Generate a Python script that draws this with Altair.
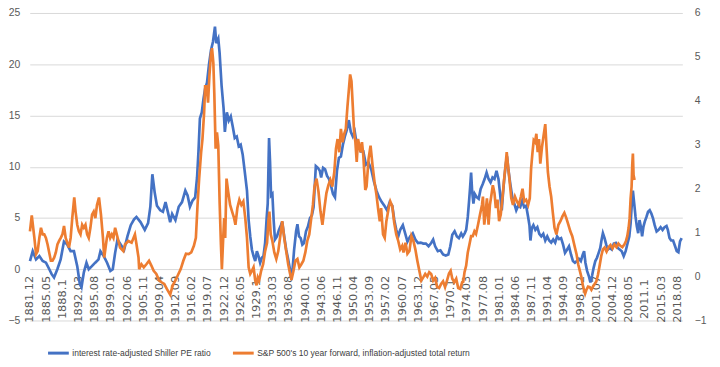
import json
import altair as alt
import pandas as pd

# ---------------- data ----------------
TICK_LABELS = ["1881.12", "1885.05", "1888.1", "1892.03", "1895.08", "1899.01", "1902.06",
               "1905.11", "1909.04", "1912.09", "1916.02", "1919.07", "1922.12", "1926.05",
               "1929.1", "1933.03", "1936.08", "1940.01", "1943.06", "1946.11", "1950.04",
               "1953.09", "1957.02", "1960.07", "1963.12", "1967.05", "1970.1", "1974.03",
               "1977.08", "1981.01", "1984.06", "1987.11", "1991.04", "1994.09", "1998.02",
               "2001.07", "2004.12", "2008.05", "2011.1", "2015.03", "2018.08"]

SERIES = ["interest rate-adjusted Shiller PE ratio",
          "S&P 500's 10 year forward, inflation-adjusted total return"]
COLORS = ["#4472C4", "#ED7D31"]

pe_year = [
    1881.92, 1882.5, 1883.2, 1883.9, 1884.6, 1885.3, 1886.0, 1886.5, 1887.0, 1887.7,
    1888.4, 1889.1, 1889.8, 1890.5, 1891.2, 1891.9, 1892.45, 1892.8, 1893.3, 1893.85,
    1894.33, 1895.0, 1895.7, 1896.4, 1896.8, 1897.5, 1898.2, 1898.9, 1899.4, 1899.9,
    1900.4, 1901.1, 1901.8, 1902.5, 1903.2, 1903.9, 1904.4, 1905.26, 1906.16, 1906.86,
    1907.34, 1907.76, 1908.25, 1908.73, 1909.43, 1909.99, 1910.54, 1911.03, 1911.52, 1911.94,
    1912.63, 1913.33, 1914.02, 1914.72, 1915.2, 1915.7, 1916.25, 1916.8, 1917.2, 1917.5,
    1917.8, 1918.2, 1918.55, 1918.9, 1919.3, 1919.73, 1920.15, 1920.56, 1920.98, 1921.26,
    1921.68, 1921.96, 1922.38, 1922.8, 1923.07, 1923.49, 1923.9, 1924.32, 1924.74, 1925.16,
    1925.58, 1926.0, 1926.41, 1926.83, 1927.25, 1927.74, 1928.09, 1928.43, 1928.78, 1929.13,
    1929.48, 1929.83, 1930.17, 1930.52, 1930.87, 1931.22, 1931.57, 1931.91, 1932.12, 1932.4,
    1932.61, 1932.82, 1933.1, 1933.37, 1933.65, 1934.07, 1934.49, 1934.9, 1935.18, 1935.6,
    1936.02, 1936.44, 1937.0, 1937.34, 1937.69, 1938.11, 1938.39, 1938.73, 1939.08, 1939.43,
    1939.78, 1940.2, 1940.61, 1941.03, 1941.45, 1941.8, 1942.07, 1942.28, 1942.7, 1943.12,
    1943.4, 1943.81, 1944.23, 1944.65, 1945.07, 1945.48, 1945.9, 1946.32, 1946.74, 1947.15,
    1947.57, 1947.99, 1948.41, 1948.82, 1949.24, 1949.66, 1950.08, 1950.5, 1950.7, 1951.19,
    1951.74, 1952.3, 1952.86, 1953.41, 1953.97, 1954.53, 1955.08, 1955.64, 1956.2, 1956.75,
    1957.31, 1957.87, 1958.42, 1958.84, 1959.26, 1959.68, 1960.09, 1960.65, 1961.14, 1961.62,
    1962.18, 1962.74, 1963.29, 1963.85, 1964.41, 1964.96, 1965.52, 1966.08, 1966.63, 1967.05,
    1967.47, 1968.03, 1968.58, 1969.14, 1969.7, 1970.25, 1970.67, 1971.09, 1971.58, 1972.06,
    1972.48, 1972.97, 1973.31, 1973.7, 1974.02, 1974.36, 1974.64, 1974.85, 1975.06, 1975.27,
    1975.55, 1975.83, 1976.24, 1976.66, 1977.08, 1977.5, 1977.91, 1978.33, 1978.75, 1979.17,
    1979.58, 1980.0, 1980.42, 1980.84, 1981.18, 1981.53, 1981.81, 1982.09, 1982.37, 1982.65,
    1982.92, 1983.34, 1983.76, 1984.18, 1984.59, 1985.01, 1985.43, 1985.85, 1986.26, 1986.68,
    1987.1, 1987.38, 1987.59, 1987.87, 1988.21, 1988.63, 1989.05, 1989.46, 1989.88, 1990.3,
    1990.72, 1991.14, 1991.55, 1991.97, 1992.39, 1992.81, 1993.22, 1993.64, 1994.06, 1994.48,
    1994.89, 1995.31, 1995.73, 1996.15, 1996.56, 1996.98, 1997.39, 1997.81, 1998.23, 1998.65,
    1998.92, 1999.2, 1999.55, 1999.9, 2000.25, 2000.6, 2000.94, 2001.29, 2001.64, 2001.99,
    2002.33, 2002.61, 2002.89, 2003.24, 2003.59, 2003.93, 2004.35, 2004.77, 2005.19, 2005.61,
    2006.02, 2006.44, 2006.86, 2007.28, 2007.69, 2008.11, 2008.46, 2008.74, 2008.95, 2009.22,
    2009.5, 2009.78, 2010.06, 2010.34, 2010.62, 2010.9, 2011.17, 2011.45, 2011.73, 2012.08,
    2012.42, 2012.77, 2013.12, 2013.47, 2013.82, 2014.23, 2014.65, 2015.07, 2015.49, 2015.9,
    2016.32, 2016.6, 2016.95, 2017.3, 2017.71, 2018.13, 2018.48, 2018.83, 2019.17, 2019.52,
]
pe_value = [
    0.8, 1.76, 0.96, 1.28, 0.8, 0.64, 0.0, -0.48, -0.8, 0.0,
    0.96, 2.7, 2.4, 1.76, 1.76, 0.3, -1.44, -1.76, -0.3, 0.64,
    0.0, 0.3, 0.64, 0.96, 1.76, 1.28, 0.64, -0.16, 0.0, 1.6,
    2.9, 2.4, 1.9, 3.2, 4.3, 4.86, 5.1, 4.6, 3.84, 4.5,
    6.1, 9.27, 7.5, 6.2, 5.75, 5.6, 6.55, 5.6, 4.6, 5.4,
    4.8, 6.1, 6.55, 7.67, 7.2, 6.1, 6.7, 7.0, 8.95, 11.5,
    14.7, 15.3, 16.6, 17.6, 18.2, 20.0, 21.4, 22.2, 23.66, 22.06,
    22.5, 21.1, 17.9, 15.7, 13.4, 15.3, 14.5, 14.9, 13.9, 12.8,
    12.95, 12.0, 12.15, 11.2, 9.6, 7.67, 4.8, 3.2, 1.9, 1.28,
    0.8, 1.76, 1.28, 0.64, 1.12, 1.28, 2.56, 5.1, 6.4, 12.8,
    10.5, 7.2, 7.35, 4.8, 2.9, 3.2, 3.84, 4.3, 4.64, 3.2,
    1.9, 0.96, -0.48, -0.16, 1.9, 3.7, 4.4, 3.2, 3.04, 2.4,
    2.56, 3.7, 4.16, 4.96, 5.27, 6.07, 8.3, 10.07, 9.9, 9.6,
    8.95, 9.9, 9.75, 9.1, 8.8, 8.15, 7.35, 7.03, 9.6, 10.87,
    11.0, 12.15, 12.95, 13.6, 14.55, 13.4, 12.95, 13.4, 12.8, 12.15,
    11.5, 11.5, 10.2, 10.4, 9.75, 8.6, 7.67, 7.0, 6.55, 6.2,
    5.75, 6.55, 6.2, 4.8, 3.84, 3.2, 3.84, 4.3, 3.5, 2.7,
    3.2, 3.5, 2.9, 2.56, 2.6, 2.5, 2.5, 2.24, 2.56, 2.9,
    2.24, 1.76, 1.85, 1.44, 1.34, 1.44, 2.24, 3.36, 3.7, 3.2,
    3.04, 3.5, 3.2, 3.5, 3.84, 5.1, 6.7, 8.0, 9.43, 7.67,
    6.4, 7.35, 7.03, 6.87, 7.83, 8.3, 8.8, 9.43, 8.8, 8.47,
    8.95, 8.8, 9.6, 8.8, 7.35, 5.75, 7.5, 8.95, 10.2, 11.0,
    9.75, 8.3, 7.03, 6.4, 5.75, 6.2, 6.07, 6.7, 6.07, 6.2,
    5.1, 4.3, 2.8, 4.0, 4.3, 3.84, 4.1, 3.45, 3.2, 3.45,
    2.8, 3.2, 2.8, 2.6, 2.9, 2.6, 3.2, 2.94, 3.04, 2.4,
    1.6, 1.9, 2.24, 1.44, 0.8, 0.64, 0.8, 1.02, 0.8, 1.44,
    1.76, 0.64, -0.16, -0.64, -1.28, -0.64, 0.16, 0.8, 1.12, 1.6,
    2.08, 2.88, 3.52, 3.04, 2.4, 1.92, 2.08, 1.92, 2.5, 2.56,
    2.08, 1.92, 1.76, 1.28, 1.76, 2.56, 3.2, 4.48, 6.07, 7.67,
    6.4, 5.1, 4.16, 3.52, 4.8, 4.16, 3.2, 4.16, 4.64, 5.1,
    5.6, 5.75, 5.43, 4.96, 4.3, 3.68, 3.84, 4.1, 3.84, 4.1,
    4.22, 3.84, 3.04, 2.8, 2.8, 2.24, 1.76, 1.66, 2.72, 3.04,
]

ret_year = [
    1881.92, 1882.3, 1882.85, 1883.2, 1883.55, 1883.9, 1884.24, 1884.6, 1884.94, 1885.29,
    1885.64, 1885.98, 1886.33, 1886.68, 1887.03, 1887.38, 1887.72, 1888.07, 1888.42, 1888.77,
    1889.11, 1889.46, 1889.81, 1890.16, 1890.51, 1890.85, 1891.27, 1891.55, 1891.9, 1892.25,
    1892.59, 1892.94, 1893.29, 1893.64, 1893.99, 1894.33, 1894.68, 1895.03, 1895.38, 1895.73,
    1896.07, 1896.49, 1896.91, 1897.33, 1897.6, 1897.88, 1898.16, 1898.51, 1898.86, 1899.2,
    1899.55, 1899.9, 1900.25, 1900.6, 1900.94, 1901.64, 1901.99, 1902.69, 1903.38, 1904.08,
    1904.42, 1904.84, 1904.98, 1905.46, 1905.95, 1906.5, 1907.06, 1907.55, 1908.04, 1908.6,
    1909.15, 1909.7, 1910.27, 1910.82, 1911.52, 1912.07, 1912.63, 1913.19, 1913.75, 1914.3,
    1914.86, 1915.42, 1915.97, 1916.53, 1916.95, 1917.3, 1917.64, 1918.06, 1918.34, 1918.69,
    1918.9, 1919.24, 1919.52, 1919.8, 1920.15, 1920.36, 1920.64, 1920.84, 1921.12, 1921.4,
    1921.68, 1921.96, 1922.24, 1922.44, 1922.72, 1922.93, 1923.14, 1923.42, 1923.77, 1924.18,
    1924.6, 1925.02, 1925.3, 1925.71, 1926.13, 1926.55, 1926.97, 1927.38, 1927.74, 1928.09,
    1928.43, 1928.78, 1929.13, 1929.48, 1929.76, 1930.03, 1930.31, 1930.73, 1931.15, 1931.57,
    1931.98, 1932.26, 1932.47, 1932.75, 1933.1, 1933.51, 1933.93, 1934.35, 1934.77, 1935.18,
    1935.6, 1936.02, 1936.44, 1936.85, 1937.13, 1937.55, 1937.97, 1938.39, 1938.8, 1939.22,
    1939.64, 1940.06, 1940.47, 1940.89, 1941.31, 1941.66, 1942.0, 1942.42, 1942.84, 1943.26,
    1943.67, 1944.09, 1944.51, 1944.93, 1945.34, 1945.76, 1946.18, 1946.53, 1946.87, 1947.22,
    1947.57, 1947.92, 1948.27, 1948.61, 1948.96, 1949.31, 1949.52, 1949.8, 1950.08, 1950.36,
    1950.63, 1950.91, 1951.19, 1951.46, 1951.74, 1952.02, 1952.3, 1952.72, 1952.99, 1953.41,
    1953.83, 1954.25, 1954.66, 1955.08, 1955.5, 1955.78, 1956.06, 1956.47, 1956.82, 1957.17,
    1957.66, 1958.0, 1958.42, 1958.84, 1959.26, 1959.68, 1960.09, 1960.51, 1960.79, 1961.21,
    1961.62, 1962.04, 1962.46, 1962.88, 1963.29, 1963.71, 1964.13, 1964.55, 1964.96, 1965.38,
    1965.8, 1966.22, 1966.63, 1967.05, 1967.47, 1967.89, 1968.3, 1968.72, 1969.14, 1969.56,
    1969.97, 1970.39, 1970.74, 1971.09, 1971.51, 1971.92, 1972.34, 1972.76, 1973.17, 1973.4,
    1973.67, 1974.02, 1974.36, 1974.71, 1975.06, 1975.41, 1975.76, 1976.1, 1976.52, 1976.94,
    1977.36, 1977.56, 1977.84, 1978.12, 1978.4, 1978.75, 1979.03, 1979.3, 1979.65, 1980.0,
    1980.28, 1980.63, 1980.97, 1981.32, 1981.67, 1982.02, 1982.37, 1982.58, 1982.85, 1983.2,
    1983.55, 1983.9, 1984.32, 1984.73, 1985.15, 1985.57, 1985.92, 1986.26, 1986.68, 1987.1,
    1987.45, 1987.73, 1988.0, 1988.28, 1988.56, 1988.84, 1989.12, 1989.4, 1989.67, 1990.02,
    1990.37, 1990.72, 1991.0, 1991.27, 1991.62, 1991.97, 1992.32, 1992.67, 1993.08, 1993.5,
    1993.92, 1994.34, 1994.75, 1995.17, 1995.59, 1996.01, 1996.42, 1996.98, 1997.32, 1997.67,
    1998.02, 1998.37, 1998.65, 1998.92, 1999.13, 1999.41, 1999.76, 2000.11, 2000.46, 2000.8,
    2001.15, 2001.5, 2001.85, 2002.2, 2002.54, 2002.89, 2003.24, 2003.66, 2004.07, 2004.49,
    2004.91, 2005.33, 2005.74, 2006.16, 2006.58, 2007.0, 2007.41, 2007.76, 2008.04, 2008.32,
    2008.53, 2008.74, 2008.95, 2009.08, 2009.22, 2009.36, 2009.57,
]
ret_value = [
    1.03, 1.39, 0.88, 0.51, 0.58, 0.88, 1.11, 0.96, 0.96, 0.88,
    0.73, 0.55, 0.36, 0.36, 0.43, 0.55, 0.73, 0.81, 0.88, 0.96,
    1.15, 0.88, 0.77, 0.66, 0.88, 1.33, 1.8, 1.48, 1.18, 1.03,
    0.96, 1.18, 1.11, 1.18, 0.96, 0.88, 1.11, 1.41, 1.48, 1.33,
    1.63, 1.8, 1.41, 0.88, 0.43, 0.66, 0.88, 1.03, 0.88, 0.96,
    0.88, 1.11, 0.96, 0.81, 0.66, 0.58, 0.73, 0.81, 0.77, 0.96,
    0.73, 0.43, 0.17, 0.28, 0.21, 0.28, 0.36, 0.25, 0.13, 0.06,
    -0.08, -0.13, -0.17, -0.28, -0.41, -0.2, -0.09, 0.04, 0.17, 0.36,
    0.52, 0.51, 0.55, 0.7, 0.88, 1.63, 2.23, 2.83, 3.13, 3.73,
    4.33, 4.33, 3.96, 4.56, 5.08, 5.2, 4.86, 4.18, 2.91, 3.28,
    2.98, 1.71, 0.73, 0.17, 0.88, 1.33, 0.88, 2.23, 1.93, 1.63,
    1.48, 1.33, 1.18, 1.56, 1.75, 1.63, 1.71, 1.33, 0.88, 0.21,
    0.06, 0.13, 0.21, -0.09, -0.2, -0.02, -0.09, 0.13, 0.28, 0.58,
    0.77, 1.26, 1.48, 0.96, 0.81, 0.55, 0.4, 0.58, 0.92, 1.26,
    0.88, 0.58, 0.28, 0.06, -0.08, 0.13, 0.36, 0.4, 0.21, 0.28,
    0.36, 0.55, 0.81, 0.96, 1.33, 1.63, 2.05, 2.23, 1.93, 1.48,
    1.18, 1.56, 1.9, 2.08, 2.2, 2.05, 2.38, 2.91, 3.13, 2.83,
    3.36, 3.06, 3.25, 3.36, 3.88, 4.33, 4.6, 4.45, 3.88, 3.28,
    3.06, 2.61, 3.13, 2.98, 2.83, 3.06, 2.76, 1.97, 2.05, 2.68,
    2.98, 2.53, 2.16, 1.86, 1.48, 1.26, 1.56, 0.96, 0.88, 1.26,
    1.56, 1.71, 1.6, 1.22, 0.96, 0.81, 0.62, 0.7, 0.55, 0.77,
    0.52, 0.58, 0.92, 0.81, 0.62, 0.36, 0.13, -0.09, -0.02, 0.06,
    0.0, 0.1, 0.06, -0.09, -0.03, -0.24, -0.26, -0.17, -0.11, -0.24,
    -0.09, 0.07, 0.13, -0.05, -0.13, -0.05, -0.26, -0.28, -0.13, -0.12,
    0.1, 0.25, 0.55, 0.73, 0.92, 0.92, 1.03, 0.97, 1.18, 1.41,
    1.63, 1.82, 1.18, 1.45, 1.78, 1.18, 1.63, 1.82, 2.08, 1.9,
    1.56, 1.75, 1.26, 1.41, 1.78, 2.2, 2.57, 2.83, 2.53, 2.16,
    1.78, 1.63, 1.82, 1.71, 1.63, 1.82, 2.0, 1.71, 1.75, 1.63,
    1.78, 2.46, 2.8, 3.1, 3.06, 3.25, 2.83, 3.13, 2.57, 2.94,
    3.21, 3.47, 2.91, 2.38, 2.05, 1.82, 1.45, 1.11, 0.96, 1.18,
    1.26, 1.37, 1.45, 1.33, 1.18, 1.03, 0.92, 0.66, 0.51, 0.28,
    0.13, -0.02, -0.2, -0.32, -0.39, -0.3, -0.23, -0.24, -0.3, -0.23,
    -0.17, -0.11, 0.04, 0.25, 0.47, 0.62, 0.66, 0.57, 0.67, 0.72,
    0.64, 0.73, 0.67, 0.75, 0.7, 0.67, 0.73, 0.81, 0.92, 1.11,
    1.33, 1.78, 2.05, 2.53, 2.8, 2.31, 2.2,
]

# ---------------- chart ----------------
START = 1881 + 11 / 12          # first category (1881.12)
STEP = 41 / 12                  # 41 months between labels
tick_values = [round(START + k * STEP, 4) for k in range(len(TICK_LABELS))]
label_expr = json.dumps(TICK_LABELS) + f"[round((datum.value - {START:.4f}) / {STEP:.6f})]"

pe_df = pd.DataFrame({"year": pe_year, "value": pe_value, "series": SERIES[0]})
ret_df = pd.DataFrame({"year": ret_year, "value": ret_value, "series": SERIES[1]})

x_scale = alt.Scale(domain=[1881.875, 2019.66], nice=False, zero=False)
x_axis = alt.Axis(values=tick_values, labelExpr=label_expr, labelAngle=270,
                  labelAlign="center", labelBaseline="middle", labelPadding=29,
                  offset=-51, grid=False, labelOverlap=False, labelFlush=False,
                  labelFont="DejaVu Sans", labelFontSize=11.5, labelColor="#595959",
                  domain=False, ticks=False, title=None)

color = alt.Color(
    "series:N",
    scale=alt.Scale(domain=SERIES, range=COLORS),
    legend=alt.Legend(
        orient="none", legendX=17, legendY=332, direction="horizontal", title=None,
        symbolType="stroke", symbolSize=441, symbolStrokeWidth=3,
        labelFont="Liberation Sans", labelFontSize=8.6, labelColor="#404040",
        columnPadding=16, labelOffset=2, padding=0, labelLimit=400,
    ),
)

pe_line = alt.Chart(pe_df).mark_line(strokeWidth=2.7).encode(
    x=alt.X("year:Q", scale=x_scale, axis=x_axis),
    y=alt.Y("value:Q", scale=alt.Scale(domain=[-5, 25], nice=False, zero=False),
            axis=alt.Axis(values=[-5, 0, 5, 10, 15, 20, 25], grid=True, gridColor="#d9d9d9",
                          gridWidth=1, labelPadding=10, labelFont="Liberation Sans",
                          labelFontSize=10.5, labelColor="#595959", orient="left",
                          domain=False, ticks=False, title=None)),
    color=color,
)

ret_line = alt.Chart(ret_df).mark_line(strokeWidth=2.7).encode(
    x=alt.X("year:Q", scale=x_scale, axis=x_axis),
    y=alt.Y("value:Q", scale=alt.Scale(domain=[-1, 6], nice=False, zero=False),
            axis=alt.Axis(values=[-1, 0, 1, 2, 3, 4, 5, 6], grid=False, labelPadding=12,
                          labelFont="Liberation Sans", labelFontSize=10.5,
                          labelColor="#595959", orient="right",
                          domain=False, ticks=False, title=None)),
    color=color,
)

chart = (
    alt.layer(pe_line, ret_line)
    .resolve_scale(y="independent")
    .properties(
        width=660, height=311,
        autosize=alt.AutoSizeParams(type="none"),
        padding={"left": 22, "top": 3, "right": 30, "bottom": 45},
        background="white",
    )
    .configure_view(stroke=None)
)

chart.save("out.html", embed_options={"renderer": "svg", "actions": False})
